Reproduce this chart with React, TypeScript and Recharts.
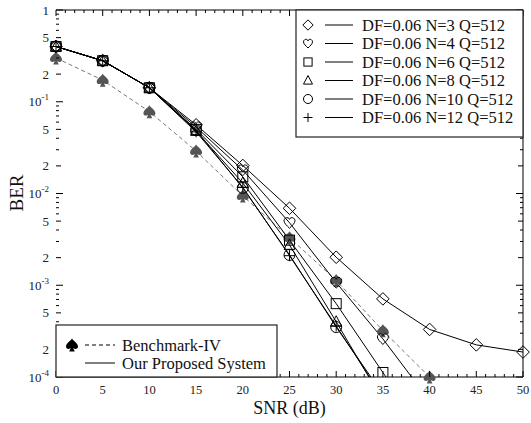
import React from 'react';
import { LineChart, Line, XAxis, YAxis, ReferenceLine } from 'recharts';

const W = 531;
const H = 423;
// plot frame (pixels) used only for the inward tick marks
const PLOT = { left: 56, right: 523, top: 10, bottom: 377 };
const FONT = '"Liberation Serif", "Times New Roman", Times, serif';

const snr = [0, 5, 10, 15, 20, 25, 30, 35, 40, 45, 50];
const berN3 = [0.4, 0.28, 0.142, 0.056, 0.0202, 0.0069, 0.00202, 0.00071, 0.00033, 0.000224, 0.000187];
const berN4 = [0.4, 0.28, 0.142, 0.053, 0.018, 0.0048, 0.00107, 0.00026, 0.000055, null, null];
const berN6 = [0.4, 0.28, 0.142, 0.05, 0.0152, 0.0031, 0.00063, 0.000112, 0.00002, null, null];
const berN8 = [0.4, 0.28, 0.142, 0.048, 0.013, 0.00275, 0.0004, 0.000055, null, null, null];
const berN10 = [0.4, 0.28, 0.142, 0.049, 0.0115, 0.00214, 0.00035, 0.000065, null, null, null];
const berN12 = [0.4, 0.28, 0.142, 0.047, 0.0117, 0.0021, 0.00036, 0.00006, null, null, null];
const berBench = [0.3, 0.172, 0.078, 0.029, 0.0094, 0.0033, 0.00113, 0.00032, 0.0001, null, null];

const xTicks = Array.from({ length: 51 }, (_, i) => i);
const xTickLabels = [0, 5, 10, 15, 20, 25, 30, 35, 40, 45, 50];
const yTicks: number[] = [];
for (let e = -4; e < 0; e++) {
  for (let m = 1; m < 10; m++) yTicks.push(Number((m * Math.pow(10, e)).toPrecision(3)));
}
yTicks.push(1);

type Kind = 'diamond' | 'heart' | 'square' | 'triangle' | 'circle' | 'plus' | 'spade';

const series: { key: string; name: string; kind: Kind; values: (number | null)[] }[] = [
  { key: 'n3', name: 'DF=0.06 N=3 Q=512', kind: 'diamond', values: berN3 },
  { key: 'n4', name: 'DF=0.06 N=4 Q=512', kind: 'heart', values: berN4 },
  { key: 'n6', name: 'DF=0.06 N=6 Q=512', kind: 'square', values: berN6 },
  { key: 'n8', name: 'DF=0.06 N=8 Q=512', kind: 'triangle', values: berN8 },
  { key: 'n10', name: 'DF=0.06 N=10 Q=512', kind: 'circle', values: berN10 },
  { key: 'n12', name: 'DF=0.06 N=12 Q=512', kind: 'plus', values: berN12 },
];

const data = snr.map((s, i) => {
  const row: Record<string, number | null> = { snr: s, bench: berBench[i] };
  series.forEach((ser) => (row[ser.key] = ser.values[i]));
  return row;
});

const HEART =
  'M0,5.5 C-2.5,3 -5.5,0.5 -5.5,-2 C-5.5,-4.5 -3,-5.5 -1.5,-5 C-0.7,-4.7 -0.2,-4 0,-3.3 C0.2,-4 0.7,-4.7 1.5,-5 C3,-5.5 5.5,-4.5 5.5,-2 C5.5,0.5 2.5,3 0,5.5 Z';
const SPADE =
  'M0,-6.5 C-1.5,-4 -6,-1.5 -6,1.5 C-6,3.8 -3.5,4.8 -1.2,3 L-2.8,6.5 L2.8,6.5 L1.2,3 C3.5,4.8 6,3.8 6,1.5 C6,-1.5 1.5,-4 0,-6.5 Z';

function Marker({ kind, cx, cy, s = 1, fill = '#555' }: { kind: Kind; cx: number; cy: number; s?: number; fill?: string }) {
  const st = { fill: 'none', stroke: '#000', strokeWidth: 1 };
  switch (kind) {
    case 'diamond': {
      const r = 6.3 * s;
      return <polygon points={`${cx},${cy - r} ${cx + r},${cy} ${cx},${cy + r} ${cx - r},${cy}`} {...st} />;
    }
    case 'heart':
      return <path d={HEART} transform={`translate(${cx},${cy}) scale(${s})`} {...st} strokeWidth={1 / s} />;
    case 'square': {
      const r = 5 * s;
      return <rect x={cx - r} y={cy - r} width={2 * r} height={2 * r} {...st} />;
    }
    case 'triangle': {
      const r = 5.5 * s;
      return <polygon points={`${cx},${cy - r * 1.1} ${cx + r},${cy + r * 0.8} ${cx - r},${cy + r * 0.8}`} {...st} />;
    }
    case 'circle':
      return <circle cx={cx} cy={cy} r={5.5 * s} {...st} />;
    case 'plus': {
      const r = 5.5 * s;
      return (
        <g stroke="#000" strokeWidth={1}>
          <line x1={cx - r} x2={cx + r} y1={cy} y2={cy} />
          <line x1={cx} x2={cx} y1={cy - r} y2={cy + r} />
        </g>
      );
    }
    case 'spade':
      return <path d={SPADE} transform={`translate(${cx},${cy}) scale(${s})`} fill={fill} stroke="none" />;
  }
  return null;
}

const dotFor = (kind: Kind, key: string) => (p: any) => {
  if (p.cx == null || p.cy == null || p.value == null) return <g key={`${key}-${p.index}`} />;
  return (
    <g key={`${key}-${p.index}`}>
      <Marker kind={kind} cx={p.cx} cy={p.cy} />
    </g>
  );
};

const YTick = (props: any) => {
  const { y, payload } = props;
  const v = payload.value as number;
  const exp = Math.floor(Math.log10(v) + 1e-9);
  const m = Math.round(v / Math.pow(10, exp));
  const len = m === 1 ? 7 : m === 2 || m === 5 ? 5 : 3;
  let label: React.ReactNode = null;
  if (m === 1) {
    label =
      exp === 0 ? (
        '1'
      ) : (
        <>
          10
          <tspan dy={-6} fontSize={9}>
            {exp}
          </tspan>
        </>
      );
  } else if (m === 2 || m === 5) label = String(m);
  return (
    <g>
      <line x1={PLOT.left} x2={PLOT.left + len} y1={y} y2={y} stroke="#000" />
      <line x1={PLOT.right} x2={PLOT.right - len} y1={y} y2={y} stroke="#000" />
      {label !== null && (
        <text x={49} y={y + 4.5} textAnchor="end" fontFamily={FONT} fontSize={13} fill="#222">
          {label}
        </text>
      )}
    </g>
  );
};

const XTick = (props: any) => {
  const { x, payload } = props;
  const v = payload.value as number;
  const major = xTickLabels.includes(v);
  const len = major ? 6 : 3;
  return (
    <g>
      <line x1={x} x2={x} y1={PLOT.bottom} y2={PLOT.bottom - len} stroke="#000" />
      <line x1={x} x2={x} y1={PLOT.top} y2={PLOT.top + len} stroke="#000" />
      {major && (
        <text x={x} y={394} textAnchor="middle" fontFamily={FONT} fontSize={12.5} fill="#222">
          {v}
        </text>
      )}
    </g>
  );
};

function Legends() {
  const rowY = (i: number) => 25 + i * 18.5;
  return (
    <svg width={W} height={H} style={{ position: 'absolute', left: 0, top: 0, pointerEvents: 'none' }} fontFamily={FONT}>
      <rect x={296} y={PLOT.top} width={PLOT.right - 296} height={127} fill="#fff" stroke="#222" strokeWidth={1.2} />
      {series.map((s, i) => (
        <g key={s.key}>
          <Marker kind={s.kind} cx={308} cy={rowY(i)} s={0.82} />
          <line x1={325} x2={353} y1={rowY(i)} y2={rowY(i)} stroke="#000" />
          <text x={362} y={rowY(i) + 5.5} fontSize={16.5} fill="#111">
            {s.name}
          </text>
        </g>
      ))}
      <rect x={PLOT.left} y={325} width={221} height={PLOT.bottom - 325} fill="#fff" stroke="#222" strokeWidth={1.2} />
      <Marker kind="spade" cx={72} cy={345} fill="#000" />
      <line x1={85} x2={115} y1={345} y2={345} stroke="#000" strokeDasharray="4 3" />
      <text x={122} y={350.5} fontSize={16.5} fill="#111">
        Benchmark-IV
      </text>
      <line x1={85} x2={115} y1={363} y2={363} stroke="#000" />
      <text x={122} y={368.5} fontSize={16.5} fill="#111">
        Our Proposed System
      </text>
      <text x={17} y={193} transform="rotate(-90 17 193)" textAnchor="middle" fontSize={19} fill="#111" dy={6}>
        BER
      </text>
      <text x={(PLOT.left + PLOT.right) / 2} y={414} textAnchor="middle" fontSize={18} fill="#111">
        SNR (dB)
      </text>
    </svg>
  );
}

export default function App() {
  return (
    <div style={{ position: 'absolute', left: 0, top: 0, width: W, height: H, background: '#fff' }}>
      <LineChart width={W} height={H} data={data} margin={{ top: 10, right: 8, bottom: 0, left: 0 }}>
        <XAxis
          type="number"
          dataKey="snr"
          domain={[0, 50]}
          ticks={xTicks}
          interval={0}
          height={46}
          tickLine={false}
          axisLine={{ stroke: '#000' }}
          tick={<XTick />}
        />
        <YAxis
          yAxisId="main"
          type="number"
          scale="log"
          domain={[1e-4, 1]}
          allowDataOverflow
          ticks={yTicks}
          interval={0}
          width={56}
          tickLine={false}
          axisLine={{ stroke: '#000' }}
          tick={<YTick />}
        />
        <YAxis yAxisId="bench" type="number" scale="log" domain={[1e-4, 1]} hide />
        <ReferenceLine yAxisId="main" y={1} stroke="#000" />
        <ReferenceLine yAxisId="main" x={50} stroke="#000" />
        <Line
          yAxisId="bench"
          type="linear"
          dataKey="bench"
          stroke="#777"
          strokeWidth={1}
          strokeDasharray="4 3"
          dot={dotFor('spade', 'bench')}
          activeDot={false}
          isAnimationActive={false}
        />
        {series.map((s) => (
          <Line
            key={s.key}
            yAxisId="main"
            type="linear"
            dataKey={s.key}
            stroke="#000"
            strokeWidth={1}
            dot={dotFor(s.kind, s.key)}
            activeDot={false}
            isAnimationActive={false}
          />
        ))}
      </LineChart>
      <Legends />
    </div>
  );
}
